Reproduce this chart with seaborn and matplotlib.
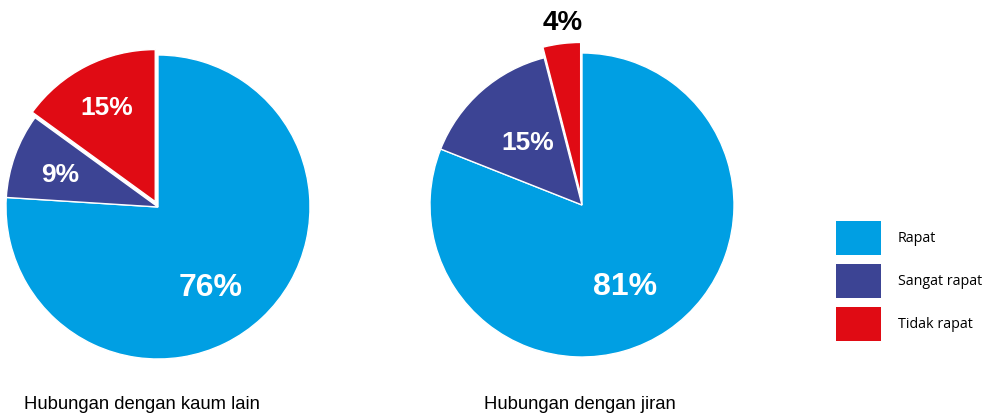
import matplotlib
matplotlib.use("Agg")
import matplotlib.pyplot as plt
from matplotlib.patches import Patch
import seaborn as sns

sns.set_theme(style="white")
plt.rcParams['font.family'] = ['Liberation Sans', 'DejaVu Sans']
plt.rcParams['text.color'] = 'black'

categories = ["Rapat", "Sangat rapat", "Tidak rapat"]
kaum_lain = [76, 9, 15]
jiran = [81, 15, 4]
titles = ["Hubungan dengan kaum lain", "Hubungan dengan jiran"]
colors = ["#009FE3", "#3C4494", "#E00B14"]

W, H = 991, 415
fig = plt.figure(figsize=(W / 100, H / 100), dpi=100)
fig.patch.set_facecolor("white")

def add_pie(cx, cy, r, values, explode, labels):
    ax = fig.add_axes([(cx - r) / W, (H - cy - r) / H, 2 * r / W, 2 * r / H])
    wedges, _ = ax.pie(values, colors=colors, startangle=90, counterclock=False,
                       explode=explode,
                       wedgeprops=dict(edgecolor="white", linewidth=1.0))
    for w in wedges:
        w.set_clip_on(False)
    ax.set_xlim(-1, 1)
    ax.set_ylim(-1, 1)
    ax.set_aspect("equal")
    ax.axis("off")
    for (x, y, txt, size, col) in labels:
        ax.text(x, y, txt, ha="center", va="center", fontsize=size,
                fontweight="bold", color=col, clip_on=False)
    return ax

add_pie(158, 207, 152, kaum_lain, [0, 0, 0.04],
        [(0.345, -0.53, f"{kaum_lain[0]}%", 23, "white"),
         (-0.645, 0.21, f"{kaum_lain[1]}%", 19, "white"),
         (-0.335, 0.65, f"{kaum_lain[2]}%", 19, "white")])

add_pie(582, 205, 152, jiran, [0, 0, 0.07],
        [(0.285, -0.54, f"{jiran[0]}%", 23, "white"),
         (-0.36, 0.41, f"{jiran[1]}%", 19, "white"),
         (-0.13, 1.195, f"{jiran[2]}%", 20, "black")])

fig.text(24 / W, 1 - 404 / H, titles[0], ha="left", va="center", fontsize=13.3, color="black")
fig.text(484 / W, 1 - 404 / H, titles[1], ha="left", va="center", fontsize=13.3, color="black")

handles = [Patch(facecolor=c, edgecolor="none") for c in colors]
fs = 10.3
px = fs * 100 / 72
hh = (34 / px - 0.245) / 0.65
fig.legend(handles, categories, loc="upper left",
           bbox_to_anchor=(836 / W, 1 - 221 / H), frameon=False,
           handlelength=45 / px, handleheight=hh,
           handletextpad=17 / px, labelspacing=9 / px,
           borderpad=0, borderaxespad=0, labelcolor="black",
           prop={"family": ["Open Sans", "DejaVu Sans"], "size": fs})

fig.savefig("out.png", dpi=100, facecolor="white")
